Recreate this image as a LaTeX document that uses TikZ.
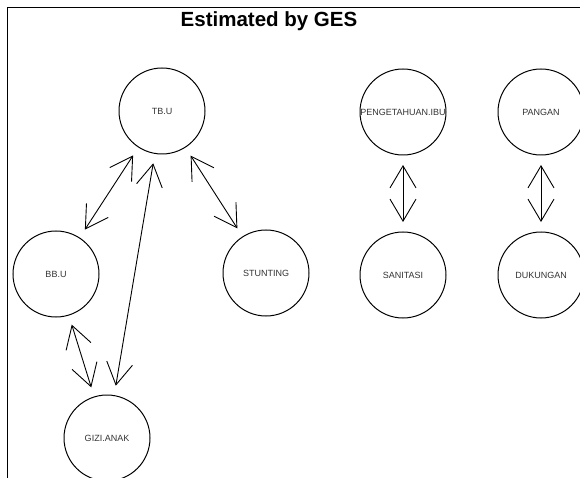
\documentclass[tikz,border=0pt]{standalone}
\usepackage{fontspec}
\setmainfont{Liberation Sans}
\usetikzlibrary{arrows.meta}
\tikzset{
  var/.style={circle, draw=black, line width=1pt, minimum size=86pt, inner sep=0pt, outer sep=10pt,
    font=\fontsize{9}{9}\selectfont, text=black!80},
  link/.style={line width=0.9pt, {Straight Barb[length=22pt,width=26pt,line width=0.9pt]}-{Straight Barb[length=22pt,width=26pt,line width=0.9pt]}},
}
\begin{document}
\begin{tikzpicture}[x=1pt,y=-1pt]
\useasboundingbox (0,0) rectangle (580,478);
\draw[line width=1.8pt] (7.5,478) -- (7.5,7.5) -- (580,7.5);
\node[font=\bfseries\fontsize{20.5}{20.5}\selectfont] (title) at (269,21) {Estimated by GES};
\node[var] (tbu) at (162,111) {TB.U};
\node[var] (bbu) at (56,274) {BB.U};
\node[var] (gizi) at (107,438) {GIZI.ANAK};
\node[var] (stunting) at (266,273) {STUNTING};
\node[var] (peng) at (403,112) {PENGETAHUAN.IBU};
\node[var] (pangan) at (541,112) {PANGAN};
\node[var] (sanitasi) at (403,275) {SANITASI};
\node[var] (dukungan) at (541,275) {DUKUNGAN};
\draw[link] (tbu) -- (bbu);
\draw[link] (tbu) -- (gizi);
\draw[link] (tbu) -- (stunting);
\draw[link] (bbu) -- (gizi);
\draw[link] (peng) -- (sanitasi);
\draw[link] (pangan) -- (dukungan);
\end{tikzpicture}
\end{document}
